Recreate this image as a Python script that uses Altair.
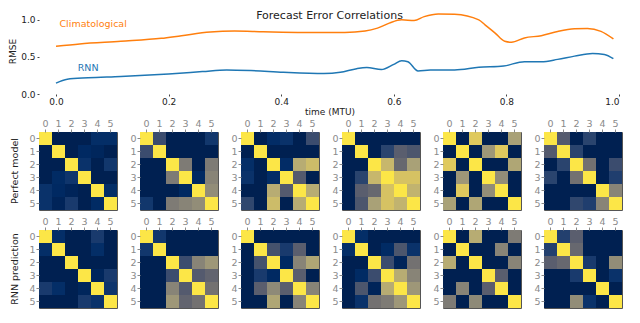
import altair as alt
import pandas as pd

# ---------------- top panel: RMSE vs time ----------------
clim_t = [0.0, 0.042, 0.115, 0.187, 0.223, 0.274, 0.317, 0.368, 0.44, 0.513, 0.549, 0.571,
          0.592, 0.614, 0.636, 0.654, 0.679, 0.708, 0.751, 0.762, 0.78, 0.797, 0.809, 0.832,
          0.862, 0.891, 0.921, 0.944, 0.968, 0.99]
clim_v = [0.644, 0.676, 0.711, 0.751, 0.787, 0.836, 0.849, 0.84, 0.831, 0.831, 0.849, 0.889,
          0.956, 1.0, 0.991, 1.044, 1.08, 1.076, 1.0, 0.933, 0.822, 0.711, 0.698, 0.756,
          0.787, 0.844, 0.88, 0.884, 0.844, 0.742]

rnn_t = [0.0, 0.02, 0.057, 0.115, 0.2, 0.26, 0.303, 0.346, 0.404, 0.476, 0.505, 0.534, 0.552,
         0.578, 0.6, 0.614, 0.625, 0.643, 0.665, 0.708, 0.751, 0.795, 0.832, 0.862, 0.891,
         0.921, 0.953, 0.974, 0.99]
rnn_v = [0.147, 0.2, 0.218, 0.236, 0.271, 0.302, 0.324, 0.316, 0.293, 0.276, 0.293, 0.342, 0.356,
         0.329, 0.4, 0.449, 0.436, 0.311, 0.324, 0.324, 0.36, 0.378, 0.436, 0.436, 0.467,
         0.511, 0.547, 0.533, 0.476]

series_names = ["Climatological", "RNN"]
series_colors = ["#ff7f0e", "#1f77b4"]
label_t = [0.066, 0.057]
label_v = [0.947, 0.347]

x_ticks = [0.0, 0.2, 0.4, 0.6, 0.8, 1.0]
y_ticks = [0.0, 0.5, 1.0]

# ---------------- correlation matrices ----------------
model_names = ["Perfect model", "RNN prediction"]
labels_idx = [0, 1, 2, 3, 4, 5]

pm0 = [[1, 0, 0, 0, .08, .08],
       [0, 1, 0, .05, .03, 0],
       [0, 0, 1, .1, 0, .13],
       [0, .06, .12, 1, 0, 0],
       [.1, .05, .02, 0, 1, .08],
       [.1, .02, .15, 0, .06, 1]]
pm1 = [[1, .25, 0, 0, 0, .13],
       [.25, 1, 0, 0, 0, 0],
       [0, 0, 1, .5, 0, .5],
       [0, 0, .5, 1, .05, .55],
       [0, 0, 0, .05, 1, .6],
       [.13, 0, .5, .55, .6, 1]]
pm2 = [[1, 0, .07, .1, 0, .25],
       [0, 1, 0, 0, 0, 0],
       [.08, 0, 1, .07, .75, .82],
       [.1, 0, .07, 1, .33, 0],
       [0, 0, .75, .33, 1, .75],
       [.22, 0, .82, 0, .75, 1]]
pm3 = [[1, 0, 0, 0, 0, 0],
       [0, 1, 0, .2, .35, .3],
       [0, 0, 1, .8, .4, .7],
       [0, .2, .8, 1, .85, .85],
       [0, .35, .4, .85, 1, .78],
       [0, .3, .7, .85, .78, 1]]
pm4 = [[1, 0, .88, 0, 0, .7],
       [0, 1, 0, .65, .88, 0],
       [.88, 0, 1, 0, 0, .72],
       [0, .65, 0, 1, .6, 0],
       [0, .88, 0, .6, 1, 0],
       [.7, 0, .72, 0, 0, 1]]
pm5 = [[1, .33, 0, .2, 0, 0],
       [.33, 1, .2, 0, 0, 0],
       [0, .2, 1, .45, 0, .25],
       [.2, 0, .45, 1, 0, .17],
       [0, 0, 0, 0, 1, .55],
       [0, 0, .22, .17, .55, 1]]

rnn0 = [[1, .08, 0, 0, .15, 0],
        [.08, 1, 0, 0, .08, 0],
        [0, 0, 1, 0, 0, 0],
        [0, 0, 0, 1, .03, .15],
        [.15, .08, 0, .03, 1, .12],
        [0, 0, 0, .15, .1, 1]]
rnn1 = [[1, .13, 0, 0, 0, 0],
        [.13, 1, 0, 0, 0, 0],
        [0, 0, 1, .25, .55, .65],
        [0, 0, .25, 1, .33, .38],
        [0, 0, .55, .33, 1, .45],
        [0, 0, .65, .38, .45, 1]]
rnn2 = [[1, 0, 0, 0, 0, 0],
        [0, 1, .28, .15, .35, 0],
        [0, .28, 1, .05, .55, .72],
        [0, .15, .05, 1, .35, 0],
        [0, .35, .58, .35, 1, .55],
        [0, 0, .72, 0, .55, 1]]
rnn3 = [[1, .08, 0, 0, 0, 0],
        [.08, 1, 0, .06, .3, .1],
        [0, 0, 1, .25, .02, .45],
        [0, .06, .25, 1, .75, .55],
        [0, .3, .02, .75, 1, .65],
        [0, .1, .45, .5, .65, 1]]
rnn4 = [[1, 0, .75, 0, 0, .5],
        [0, 1, 0, 0, .55, 0],
        [.75, 0, 1, 0, 0, .55],
        [0, 0, 0, 1, .35, 0],
        [0, .55, 0, .35, 1, 0],
        [.5, 0, .58, 0, 0, 1]]
rnn5 = [[1, .18, .35, 0, 0, 0],
        [.18, 1, .4, 0, 0, 0],
        [.35, .4, 1, .15, 0, .6],
        [0, 0, .15, 1, 0, .1],
        [0, 0, 0, 0, 1, 0],
        [0, 0, .6, .1, 0, 1]]

perfect_mats = [pm0, pm1, pm2, pm3, pm4, pm5]
rnn_mats = [rnn0, rnn1, rnn2, rnn3, rnn4, rnn5]

# ---------------- tables ----------------
line_rows = []
for t, v in zip(clim_t, clim_v):
    line_rows.append({"t": t, "v": v, "series": "Climatological"})
for t, v in zip(rnn_t, rnn_v):
    line_rows.append({"t": t, "v": v, "series": "RNN"})
line_df = pd.DataFrame(line_rows)
label_df = pd.DataFrame({"t": label_t, "v": label_v, "series": series_names})

heat_rows = []
for model, mats in zip(model_names, [perfect_mats, rnn_mats]):
    for k, m in enumerate(mats):
        for i in labels_idx:
            for j in labels_idx:
                heat_rows.append({"model": model, "panel": k, "row": i, "col": j, "value": m[i][j]})
heat_df = pd.DataFrame(heat_rows)

# ---------------- layout constants ----------------
PX = 563.0        # pixels per time unit
ORIGIN = 58.0     # page x of t = 0
PLOT_LEFT = 41.0  # expected page x of plot left edge
PLOT_RIGHT = 622.0
W_TOP = PLOT_RIGHT - PLOT_LEFT
x0 = (PLOT_LEFT - ORIGIN) / PX
x1 = (PLOT_RIGHT - ORIGIN) / PX
CELL = 78

FONT = "DejaVu Sans"
color_scale = alt.Scale(domain=series_names, range=series_colors)

lines = alt.Chart(line_df).mark_line(strokeWidth=1.5, interpolate="monotone").encode(
    x=alt.X("t:Q", scale=alt.Scale(domain=[x0, x1], nice=False, zero=False),
            axis=alt.Axis(values=x_ticks, format=".1f", title="time (MTU)", grid=False,
                          domain=False, tickSize=2, labelPadding=1, titlePadding=1,
                          labelFontSize=9, titleFontSize=9, titleFontWeight="normal",
                          labelColor="#222", titleColor="#222", tickColor="#444",
                          minExtent=0)),
    y=alt.Y("v:Q", scale=alt.Scale(domain=[0, 1.16], nice=False, zero=False),
            axis=alt.Axis(values=y_ticks, format=".1f", title="RMSE", grid=False,
                          domain=False, tickSize=2, labelPadding=2, titlePadding=3,
                          labelFontSize=9, titleFontSize=9, titleFontWeight="normal",
                          labelColor="#222", titleColor="#222", tickColor="#444",
                          minExtent=0)),
    color=alt.Color("series:N", scale=color_scale, legend=None),
)

line_labels = alt.Chart(label_df).mark_text(fontSize=9.5, font=FONT).encode(
    x="t:Q", y="v:Q", text="series:N",
    color=alt.Color("series:N", scale=color_scale, legend=None),
)

top = alt.layer(lines, line_labels).properties(
    width=W_TOP, height=86,
    title=alt.TitleParams("Forecast Error Correlations", offset=-13, fontSize=11,
                          font=FONT, fontWeight="normal", color="#222",
                          anchor="middle", frame="group"),
    view=alt.ViewBackground(stroke=None),
)

heat_unit = alt.Chart(heat_df).mark_rect().encode(
    x=alt.X("col:O", scale=alt.Scale(paddingInner=0, paddingOuter=0),
            axis=alt.Axis(orient="top", title=None, labelAngle=0, labelFontSize=9.5,
                          labelColor="#8a8a8a", tickColor="#8a8a8a", tickSize=3,
                          labelPadding=1, domain=False, minExtent=0)),
    y=alt.Y("row:O", scale=alt.Scale(paddingInner=0, paddingOuter=0),
            axis=alt.Axis(title=None, labelFontSize=9.5, labelColor="#8a8a8a",
                          tickColor="#8a8a8a", tickSize=3, labelPadding=1, domain=False,
                          minExtent=0)),
    color=alt.Color("value:Q", scale=alt.Scale(scheme="cividis", domain=[0, 1]), legend=None),
).properties(width=CELL, height=CELL, view=alt.ViewBackground(stroke="#555", strokeWidth=1))

heat = heat_unit.facet(
    row=alt.Row("model:N", sort=model_names,
                header=alt.Header(title=None, labelAngle=-90, labelOrient="left",
                                  labelFontSize=9.5, labelFont=FONT, labelColor="#222",
                                  labelPadding=4)),
    column=alt.Column("panel:O", header=alt.Header(title=None, labels=False)),
    spacing={"row": 4, "column": 11},
).resolve_axis(x="independent", y="independent").resolve_scale(x="independent", y="independent")

chart = alt.vconcat(top, heat, spacing=1).properties(padding=0).configure(
    font=FONT, background="white"
).configure_axis(labelFont=FONT, titleFont=FONT)

chart.save("out.html", embed_options={"renderer": "svg", "actions": False})
